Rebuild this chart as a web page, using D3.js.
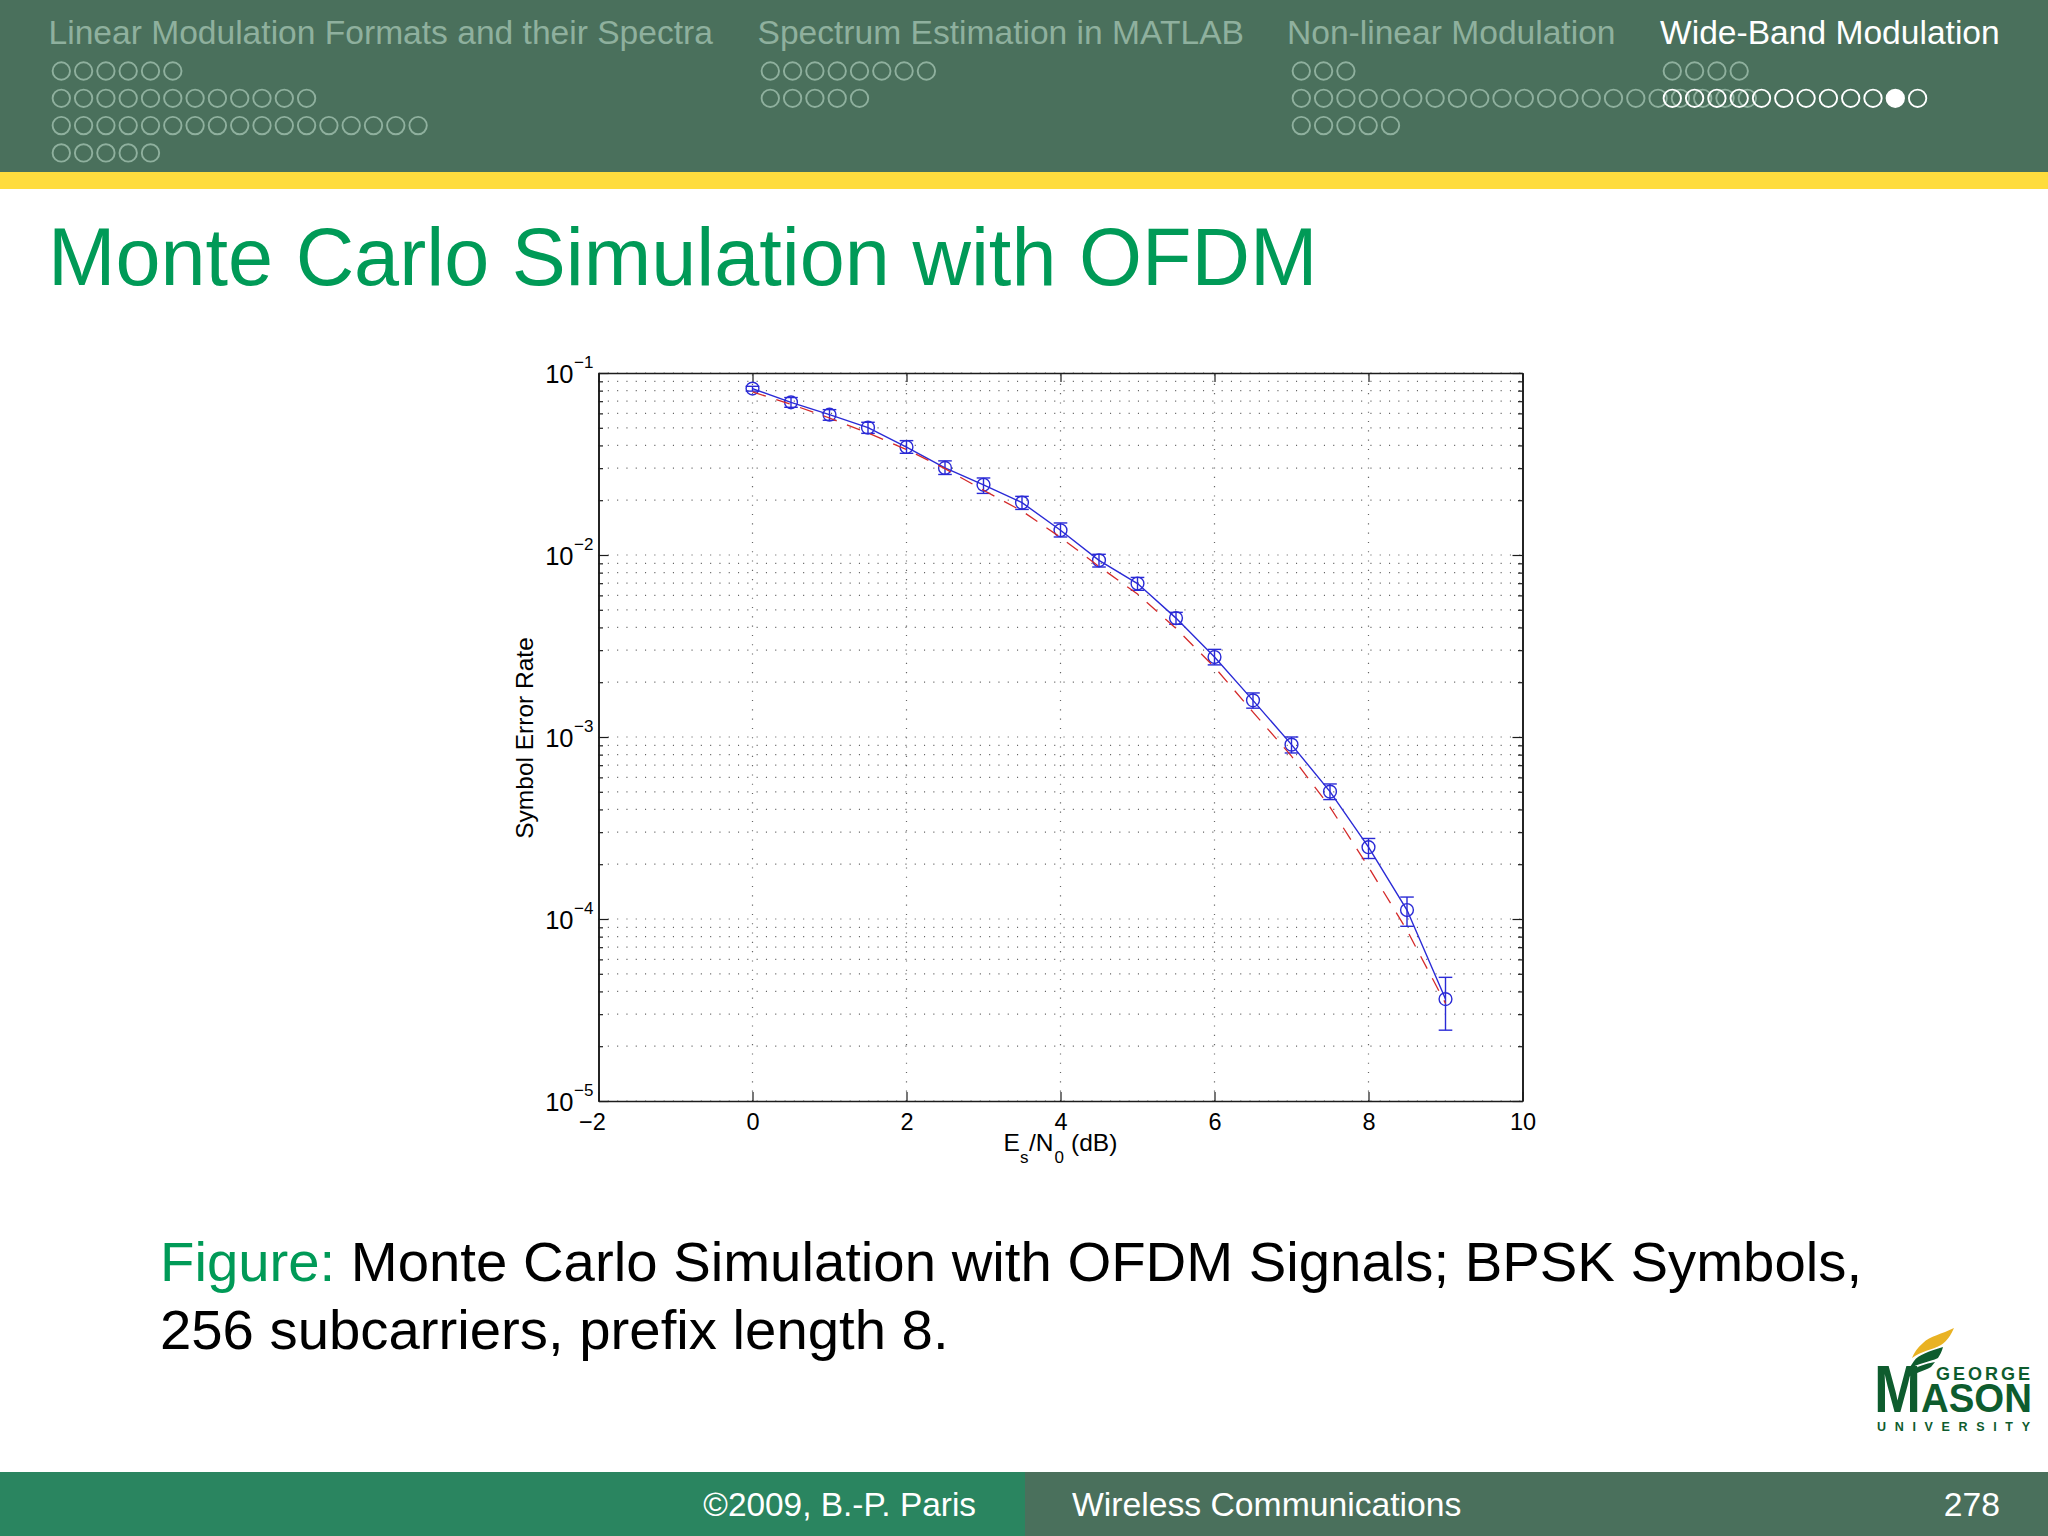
<!DOCTYPE html>
<html>
<head>
<meta charset="utf-8">
<script src="https://cdn.jsdelivr.net/npm/d3@7"></script>
<style>
  html, body { margin: 0; padding: 0; background: #fff; }
  svg { display: block; }
  text { font-family: "Liberation Sans", Arial, sans-serif; }
</style>
</head>
<body>
<svg id="slide" width="2048" height="1536"></svg>
<script>
// chart values
const esN0 = [0, 0.5, 1, 1.5, 2, 2.5, 3, 3.5, 4, 4.5, 5, 5.5, 6, 6.5, 7, 7.5, 8, 8.5, 9];
const serSim = [0.0821, 0.069, 0.059, 0.0501, 0.0392, 0.0301, 0.0243, 0.0194, 0.01368, 0.00935,
  0.00697, 0.0045, 0.00275, 0.00159, 0.000908, 0.000501, 0.000248, 0.000112, 0.0000363];
const serLow = [0.0795, 0.0648, 0.055, 0.0466, 0.0362, 0.0277, 0.0218, 0.0178, 0.01256, 0.00859,
  0.0064, 0.00416, 0.00249, 0.00144, 0.000817, 0.000453, 0.000215, 0.0000912, 0.0000245];
const serHigh = [0.0845, 0.0733, 0.0629, 0.0536, 0.0425, 0.0329, 0.0265, 0.021, 0.015, 0.01009,
  0.00753, 0.00484, 0.00303, 0.001746, 0.001, 0.000552, 0.000277, 0.000132, 0.0000478];
const serTheory = [0.0787, 0.0673, 0.0566, 0.0468, 0.038, 0.0298, 0.0227, 0.01745, 0.0125, 0.00865,
  0.0061, 0.00395, 0.00242, 0.00137, 0.000785, 0.000412, 0.000193, 0.0000867, 0.0000344];

const xTicks = [-2, 0, 2, 4, 6, 8, 10];
const yExponents = [-1, -2, -3, -4, -5];
const yMinorFactors = [2, 3, 4, 5, 6, 7, 8, 9];

const navSections = ["Linear Modulation Formats and their Spectra", "Spectrum Estimation in MATLAB",
  "Non-linear Modulation", "Wide-Band Modulation"];
const navSectionX = [48.5, 757.5, 1287, 1660];
const navDotsX = [52, 761, 1292, 1663];
const navDots = [[6, 12, 17, 5], [8, 5], [3, 21, 5], [4, 12]];

const slideTitle = "Monte Carlo Simulation with OFDM";
const captionLabel = "Figure:";
const captionLines = ["Monte Carlo Simulation with OFDM Signals; BPSK Symbols,", "256 subcarriers, prefix length 8."];

const svg = d3.select("#slide");
const green = "#009a57", dim = "#8fb09e", band = "#4a705c", ink = "#1c1c1c";

// header
svg.append("rect").attr("width", 2048).attr("height", 172).attr("fill", band);
svg.append("rect").attr("y", 172).attr("width", 2048).attr("height", 17).attr("fill", "#fedc3e");

navSections.forEach((name, i) => {
  svg.append("text").attr("x", navSectionX[i]).attr("y", 44).attr("font-size", 33.6)
    .attr("fill", i === 3 ? "#fff" : dim).text(name);
});

// the last section is on top, because its second row runs over the one before
navDots.forEach((rows, s) => {
  rows.forEach((count, r) => {
    const active = s === 3 && r === 1;
    svg.append("g").selectAll("circle").data(d3.range(count)).join("circle")
      .attr("cx", (d) => navDotsX[s] + 9.3 + d * 22.3)
      .attr("cy", 71 + r * 27.3)
      .attr("r", 8.7)
      .attr("stroke-width", 1.9)
      .attr("stroke", active ? "#fff" : dim)
      .attr("fill", (d) => (active && d === 10 ? "#fff" : "none"));
  });
});

svg.append("text").attr("x", 48).attr("y", 285).attr("font-size", 81).attr("fill", green).text(slideTitle);

// plot
const x = d3.scaleLinear().domain([-2, 10]).range([598.5, 1522.5]);
const y = d3.scaleLog().domain([1e-5, 1e-1]).range([1101, 373]);

const yMajor = yExponents.map((e) => Math.pow(10, e));
const yMinor = yExponents.slice(1).flatMap((e) => yMinorFactors.map((f) => f * Math.pow(10, e)));

const plot = svg.append("g");

// dotted grid
const grid = plot.append("g").attr("stroke", "#666").attr("stroke-width", 1.2).attr("stroke-dasharray", "1.1 8.2");
grid.selectAll(".h").data(yMajor.concat(yMinor)).join("line").attr("class", "h")
  .attr("x1", x.range()[0]).attr("x2", x.range()[1])
  .attr("y1", (d) => y(d)).attr("y2", (d) => y(d));
grid.selectAll(".v").data(xTicks.slice(1, -1)).join("line").attr("class", "v")
  .attr("x1", (d) => x(d)).attr("x2", (d) => x(d))
  .attr("y1", y.range()[0]).attr("y2", y.range()[1]);

// axes
const styleAxis = (g) => {
  g.selectAll(".domain").attr("stroke", ink).attr("stroke-width", 1.6);
  g.selectAll(".tick line").attr("stroke", ink).attr("stroke-width", 1.2);
};
const plotLeft = x.range()[0], plotRight = x.range()[1], plotTop = y.range()[1], plotBottom = y.range()[0];

plot.append("g").attr("transform", `translate(0,${plotBottom})`)
  .call(d3.axisBottom(x).tickValues(xTicks).tickSize(-9).tickSizeOuter(0).tickPadding(0)
    .tickFormat((d) => (d < 0 ? "\u2212" + -d : d)))
  .call(styleAxis)
  .call((g) => g.selectAll(".tick text")
    .attr("fill", "#000").attr("font-size", 23.5)
    .attr("y", 0).attr("dy", 29)
    .attr("dx", (d) => (d < 0 ? -6.5 : 0)));

plot.append("g").attr("transform", `translate(0,${plotTop})`)
  .call(d3.axisTop(x).tickValues(xTicks).tickSize(-9).tickSizeOuter(0).tickFormat(""))
  .call(styleAxis);

plot.append("g").attr("transform", `translate(${plotRight},0)`)
  .call(d3.axisRight(y).tickValues(yMajor).tickSize(-10).tickSizeOuter(0).tickFormat(""))
  .call(styleAxis);
plot.append("g").attr("transform", `translate(${plotRight},0)`)
  .call(d3.axisRight(y).tickValues(yMinor).tickSize(-4.5).tickSizeOuter(0).tickFormat(""))
  .call(styleAxis);
plot.append("g").attr("transform", `translate(${plotLeft},0)`)
  .call(d3.axisLeft(y).tickValues(yMinor).tickSize(-4.5).tickSizeOuter(0).tickFormat(""))
  .call(styleAxis);

plot.append("g").attr("transform", `translate(${plotLeft},0)`)
  .call(d3.axisLeft(y).tickValues(yMajor).tickSize(-10).tickSizeOuter(0).tickFormat(""))
  .call(styleAxis)
  .call((g) => {
    const tick = g.selectAll(".tick");
    tick.select("text").remove();
    tick.append("text").attr("x", -25).attr("y", 9).attr("text-anchor", "end")
      .attr("fill", "#000").attr("font-size", 25.5).text("10");
    tick.append("text").attr("x", -24.5).attr("y", -6).attr("text-anchor", "start")
      .attr("fill", "#000").attr("font-size", 17)
      .text((d) => "\u2212" + -Math.round(Math.log10(d)));
  });

// axis labels
const xLabel = plot.append("text").attr("y", 1151).attr("font-size", 24.5).attr("fill", "#000");
xLabel.append("tspan").attr("x", 1003.5).text("E");
xLabel.append("tspan").attr("x", 1020).attr("dy", 12).attr("font-size", 17).text("s");
xLabel.append("tspan").attr("x", 1029).attr("dy", -12).text("/N");
xLabel.append("tspan").attr("x", 1054.5).attr("dy", 12).attr("font-size", 17).text("0");
xLabel.append("tspan").attr("x", 1071).attr("dy", -12).text("(dB)");

plot.append("text").attr("transform", "translate(532.5,738) rotate(-90)")
  .attr("text-anchor", "middle").attr("font-size", 24.5).attr("fill", "#000")
  .text("Symbol Error Rate");

// series
const line = d3.line().x((d, i) => x(esN0[i])).y((d) => y(d));
const blue = "#2a2ad6", red = "#d42a2a";

const sim = plot.append("g").attr("stroke", blue).attr("stroke-width", 1.4).attr("fill", "none");
sim.append("path").attr("d", line(serSim));
sim.selectAll(".bar").data(esN0).join("line").attr("class", "bar")
  .attr("x1", (d) => x(d)).attr("x2", (d) => x(d))
  .attr("y1", (d, i) => y(serLow[i])).attr("y2", (d, i) => y(serHigh[i]));
sim.selectAll(".capLow").data(esN0).join("line").attr("class", "capLow")
  .attr("x1", (d) => x(d) - 6.8).attr("x2", (d) => x(d) + 6.8)
  .attr("y1", (d, i) => y(serLow[i])).attr("y2", (d, i) => y(serLow[i]));
sim.selectAll(".capHigh").data(esN0).join("line").attr("class", "capHigh")
  .attr("x1", (d) => x(d) - 6.8).attr("x2", (d) => x(d) + 6.8)
  .attr("y1", (d, i) => y(serHigh[i])).attr("y2", (d, i) => y(serHigh[i]));
sim.selectAll("circle").data(esN0).join("circle")
  .attr("cx", (d) => x(d)).attr("cy", (d, i) => y(serSim[i])).attr("r", 6.4);

plot.append("path").attr("d", line(serTheory)).attr("fill", "none")
  .attr("stroke", red).attr("stroke-width", 1.3).attr("stroke-dasharray", "14 11");

// caption
const cap = svg.append("g").attr("font-size", 56.3).attr("fill", "#000");
const capFirst = cap.append("text").attr("x", 160).attr("y", 1281);
capFirst.append("tspan").attr("fill", green).text(captionLabel + " ");
capFirst.append("tspan").text(captionLines[0]);
cap.append("text").attr("x", 160).attr("y", 1349).text(captionLines[1]);

// logo
const logo = svg.append("g").attr("fill", "#0e5c2e");
logo.append("path").attr("fill", "#e9b223")
  .attr("d", "M1954 1328 C1942 1334 1930 1336 1923 1343 C1917 1348 1914 1353 1912 1358 C1921 1351 1932 1350 1941 1345 C1947 1341 1951 1335 1954 1328 Z");
logo.append("path")
  .attr("d", "M1943 1347 C1930 1351 1918 1355 1914 1361 L1908 1370 C1917 1363 1930 1362 1938 1358 C1940 1355 1942 1351 1943 1347 Z");
logo.append("path")
  .attr("d", "M1935 1362 C1925 1364 1917 1366 1912 1371 L1907 1378 C1914 1373 1924 1371 1931 1367 Z");
logo.append("text").attr("x", 1874).attr("y", 1412).attr("font-family", "Liberation Serif")
  .attr("font-weight", "bold").attr("font-size", 66).attr("textLength", 47).attr("lengthAdjust", "spacingAndGlyphs").text("M");
logo.append("text").attr("x", 1921).attr("y", 1412).attr("font-family", "Liberation Serif")
  .attr("font-weight", "bold").attr("font-size", 41).attr("textLength", 111).attr("lengthAdjust", "spacingAndGlyphs").text("ASON");
logo.append("text").attr("x", 1936).attr("y", 1380).attr("font-weight", "bold")
  .attr("font-size", 18).attr("textLength", 94).text("GEORGE");
logo.append("text").attr("x", 1877).attr("y", 1431).attr("font-weight", "bold")
  .attr("font-size", 12.5).attr("textLength", 153).text("UNIVERSITY");

// footer
svg.append("rect").attr("y", 1472).attr("width", 1025).attr("height", 64).attr("fill", "#2a8560");
svg.append("rect").attr("x", 1025).attr("y", 1472).attr("width", 1023).attr("height", 64).attr("fill", band);
const foot = svg.append("g").attr("fill", "#fff");
foot.append("text").attr("x", 976).attr("y", 1516).attr("font-size", 33.4).attr("text-anchor", "end").text("\u00a92009, B.-P. Paris");
foot.append("text").attr("x", 1072).attr("y", 1516).attr("font-size", 33.7).text("Wireless Communications");
foot.append("text").attr("x", 2000).attr("y", 1516).attr("font-size", 33.7).attr("text-anchor", "end").text("278");
</script>
</body>
</html>
